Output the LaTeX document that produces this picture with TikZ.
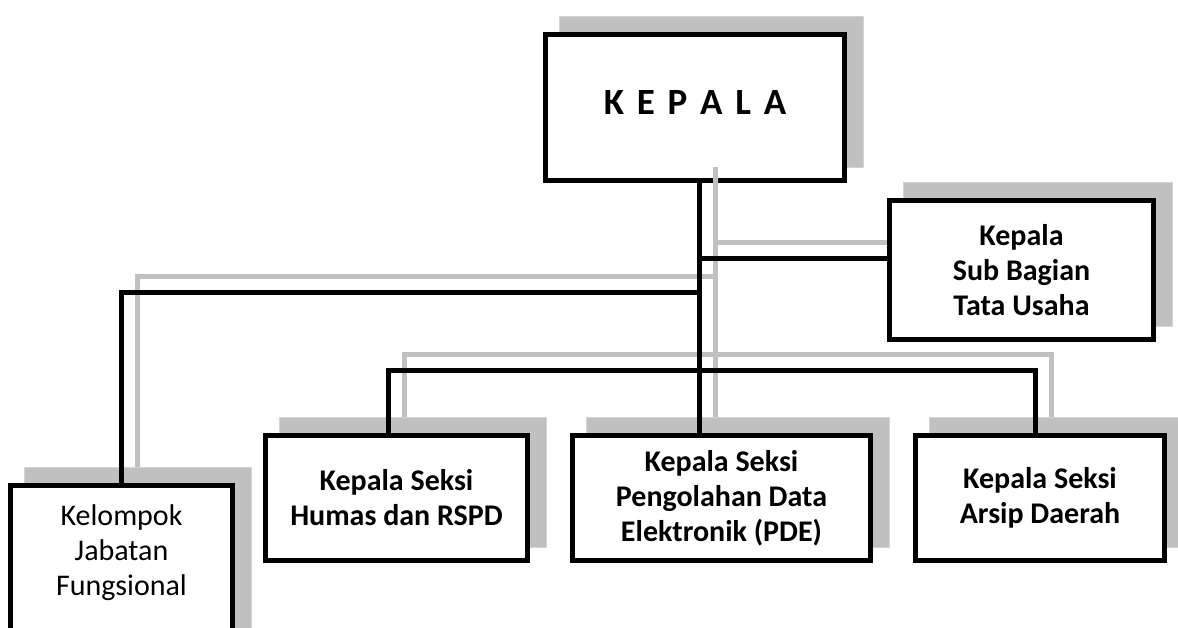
\documentclass[tikz,border=0pt]{standalone}
\usepackage{fontspec}
\setmainfont{Carlito}
\usetikzlibrary{backgrounds}
\definecolor{shade}{HTML}{C0C0C0}
\definecolor{shadeedge}{HTML}{D4D4D4}
\tikzset{
  box/.style={draw, line width=5pt, fill=white, align=center, inner sep=0pt,
    font=\bfseries\fontsize{30}{35}\selectfont},
  boxshade/.style={fill=shade, draw=shadeedge, line width=1pt},
  conn/.style={draw=black, line width=5pt},
  connshade/.style={draw=shade, line width=5pt},
  sh/.style={shift={(16pt,16pt)}}
}
\begin{document}
\begin{tikzpicture}[x=1pt,y=-1pt]
  \useasboundingbox (0,0) rectangle (1178,627);
  % boxes
  \node[box, minimum width=299, minimum height=146,
    font=\bfseries\fontsize{37}{44}\selectfont] (kepala) at (695,107.5)
    {\raisebox{-6.5pt}[0pt][0pt]{\spaceskip=12.8pt\relax K E P A L A}};
  \node[box, minimum width=264, minimum height=139] (sub) at (1021.5,270)
    {Kepala\\Sub Bagian\\Tata Usaha};
  \node[box, anchor=north, minimum width=222,
    font=\fontsize{30}{35}\selectfont] (kjf) at (121.5,483)
    {\parbox[t][160pt][t]{222pt}{\centering\rule{0pt}{39.5pt}Kelompok\\Jabatan\\Fungsional}};
  \node[box, minimum width=262, minimum height=125] (humas) at (396.5,498)
    {Kepala Seksi\\Humas dan RSPD};
  \node[box, minimum width=298, minimum height=125] (pde) at (721.5,498)
    {Kepala Seksi\\Pengolahan Data\\Elektronik (PDE)};
  \node[box, minimum width=249, minimum height=125] (arsip) at (1040,498)
    {Kepala Seksi\\Arsip Daerah};
  % shadows of boxes
  \begin{scope}[on background layer]
    \foreach \n in {kepala,sub,kjf,humas,pde,arsip}
      \path[boxshade] ([sh]\n.south west) rectangle ([sh]\n.north east);
  \end{scope}
  % joints
  \coordinate (j1) at (699,258);
  \coordinate (j2) at (699,292);
  \coordinate (hx) at (388,370);
  \coordinate (ax) at (1035,370);
  \coordinate (top) at (kepala.south -| j1);
  \coordinate (bot) at (pde.north -| j1);
  \coordinate (hb) at (humas.north -| hx);
  \coordinate (ab) at (arsip.north -| ax);
  \coordinate (g1) at ([sh]j1);
  % shadow lines
  \draw[connshade] ([sh]top) -- ([sh]bot);
  \draw[connshade] (g1) -- (sub.west |- g1);
  \draw[connshade] ([sh]j2) -| ([sh]kjf.north);
  \draw[connshade] ([sh]hb) |- ([sh]ax) -- ([sh]ab);
  % lines
  \draw[conn] (top) -- (bot);
  \draw[conn] (j1) -- (sub.west |- j1);
  \draw[conn] (j2) -| (kjf.north);
  \draw[conn] (hb) |- (ax) -- (ab);
\end{tikzpicture}
\end{document}
